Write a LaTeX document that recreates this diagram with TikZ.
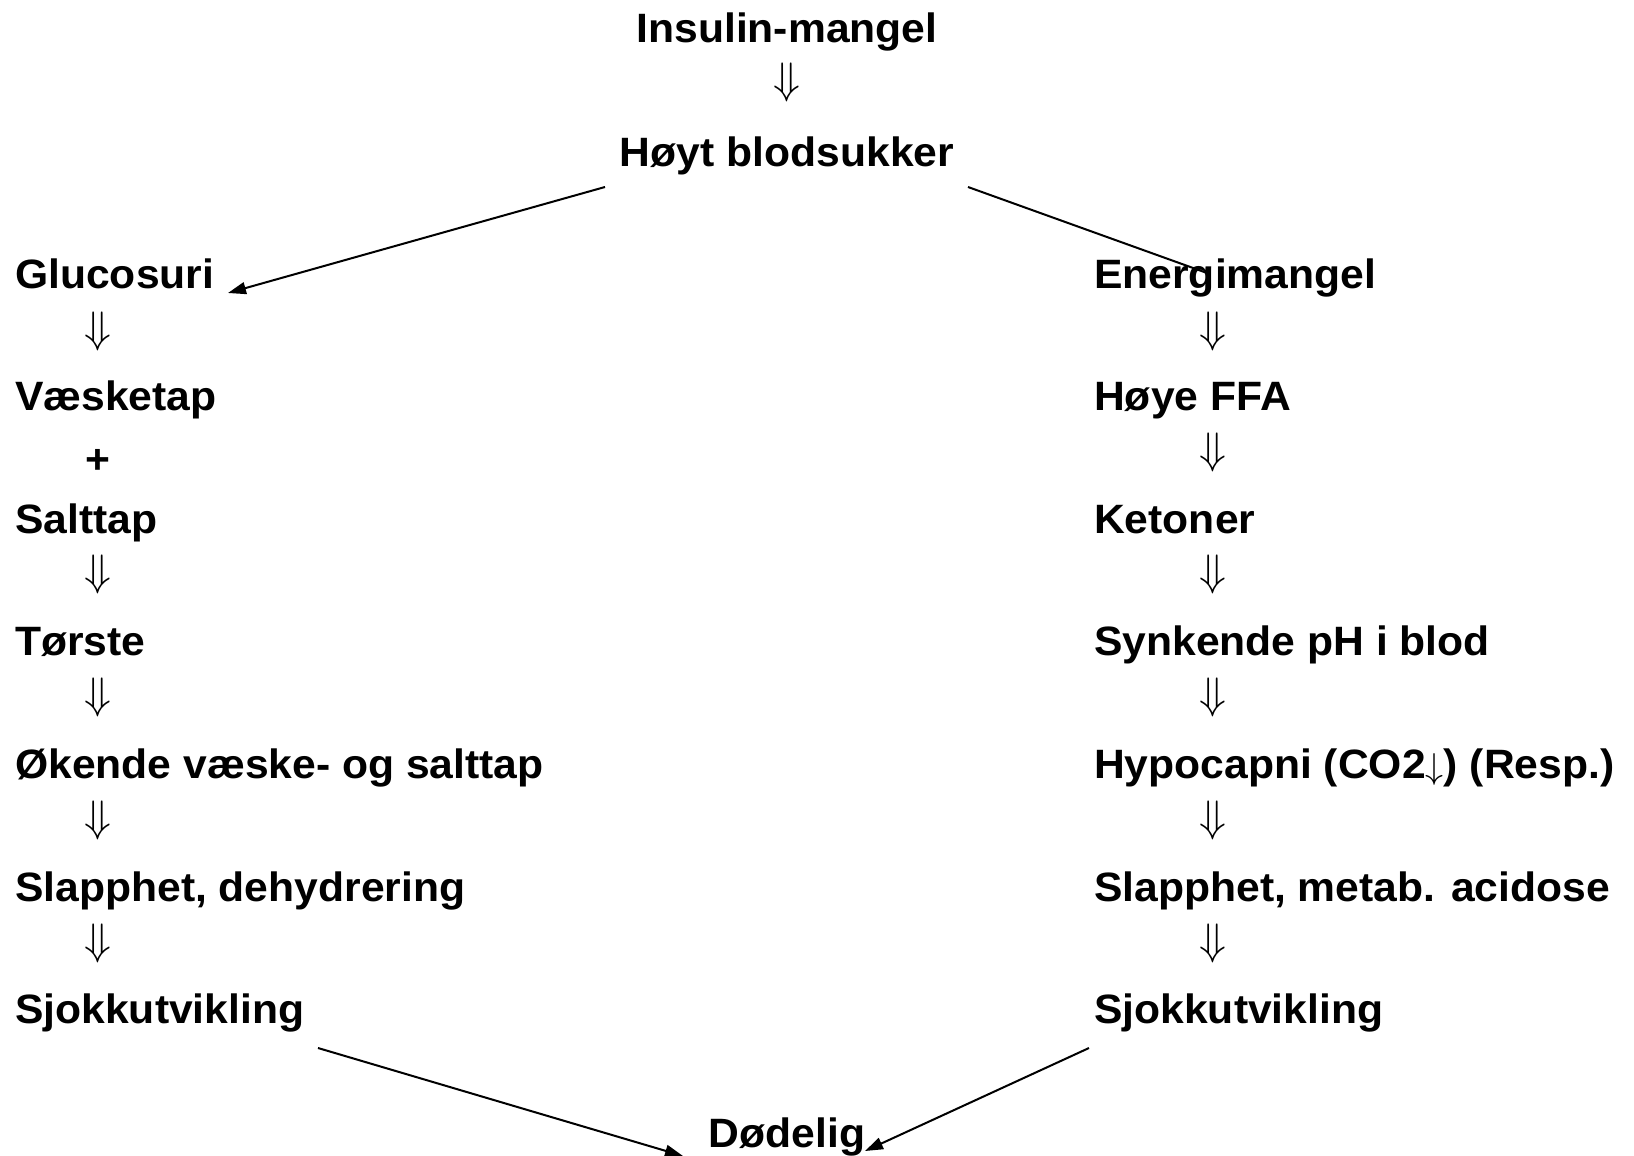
\RequirePackage{fix-cm}
\documentclass[tikz,border=0pt]{standalone}
\usepackage{fontspec}
\setmainfont[FakeStretch=1.04]{Liberation Sans}
\usetikzlibrary{arrows.meta}
\begin{document}
\begin{tikzpicture}[x=1pt,y=-1pt,
  lbl/.style={font=\bfseries\fontsize{41}{46}\selectfont, inner sep=0pt},
  dn/.style={font=\fontsize{44}{48}\selectfont, inner sep=0pt},
  conn/.style={line width=2pt, -{Triangle[length=18pt,width=12pt]}}]
\useasboundingbox (0,0) rectangle (1634,1156);
% top
\node[lbl, anchor=base] (ins) at (787,43) {Insulin-mangel};
\node[dn] (a0) at (787,83) {$\Downarrow$};
\node[lbl, anchor=base] (hoy) at (787,166) {Høyt blodsukker};
% left column
\node[lbl, anchor=base west] (glu) at (15,288) {Glucosuri};
\node[dn] (l1) at (98,331) {$\Downarrow$};
\node[lbl, anchor=base west] (vae) at (15,410) {Væsketap};
\node[lbl] (plus) at (98,461) {+};
\node[lbl, anchor=base west] (sal) at (15,533) {Salttap};
\node[dn] (l2) at (98,574) {$\Downarrow$};
\node[lbl, anchor=base west] (tor) at (15,655) {Tørste};
\node[dn] (l3) at (98,697) {$\Downarrow$};
\node[lbl, anchor=base west] (oke) at (15,778) {Økende væske- og salttap};
\node[dn] (l4) at (98,820) {$\Downarrow$};
\node[lbl, anchor=base west] (sla) at (15,901) {Slapphet, dehydrering};
\node[dn] (l5) at (98,943) {$\Downarrow$};
\node[lbl, anchor=base west] (sjl) at (15,1023) {Sjokkutvikling};
% right column
\node[lbl, anchor=base west] (ene) at (1094,288) {Energimangel};
\node[dn] (r1) at (1213,331) {$\Downarrow$};
\node[lbl, anchor=base west] (ffa) at (1094,410) {Høye FFA};
\node[dn] (r2) at (1213,452) {$\Downarrow$};
\node[lbl, anchor=base west] (ket) at (1094,533) {Ketoner};
\node[dn] (r3) at (1213,574) {$\Downarrow$};
\node[lbl, anchor=base west] (syn) at (1094,655) {Synkende pH i blod};
\node[dn] (r4) at (1213,697) {$\Downarrow$};
\node[lbl, anchor=base west] (hyp) at (1094,778) {Hypocapni (CO2{\mdseries\fontsize{36}{40}\selectfont$\downarrow$}) (Resp.)};
\node[dn] (r5) at (1213,820) {$\Downarrow$};
\node[lbl, anchor=base west] (slr) at (1094,901) {Slapphet, metab. acidose};
\node[dn] (r6) at (1213,943) {$\Downarrow$};
\node[lbl, anchor=base west] (sjr) at (1094,1023) {Sjokkutvikling};
% bottom
\node[lbl, anchor=base] (dod) at (787,1147) {Dødelig};
% connectors
\coordinate (h1) at (605,187);
\coordinate (h2) at (968,187);
\coordinate (gl) at (228,293);
\coordinate (en) at (1207,273);
\coordinate (s1) at (318,1048);
\coordinate (s2) at (1089,1048);
\coordinate (d1) at (683,1156);
\coordinate (d2) at (865,1151);
\draw[conn] (h1) -- (gl);
\draw[line width=2pt] (h2) -- (en);
\draw[conn] (s1) -- (d1);
\draw[conn] (s2) -- (d2);
\end{tikzpicture}
\end{document}
